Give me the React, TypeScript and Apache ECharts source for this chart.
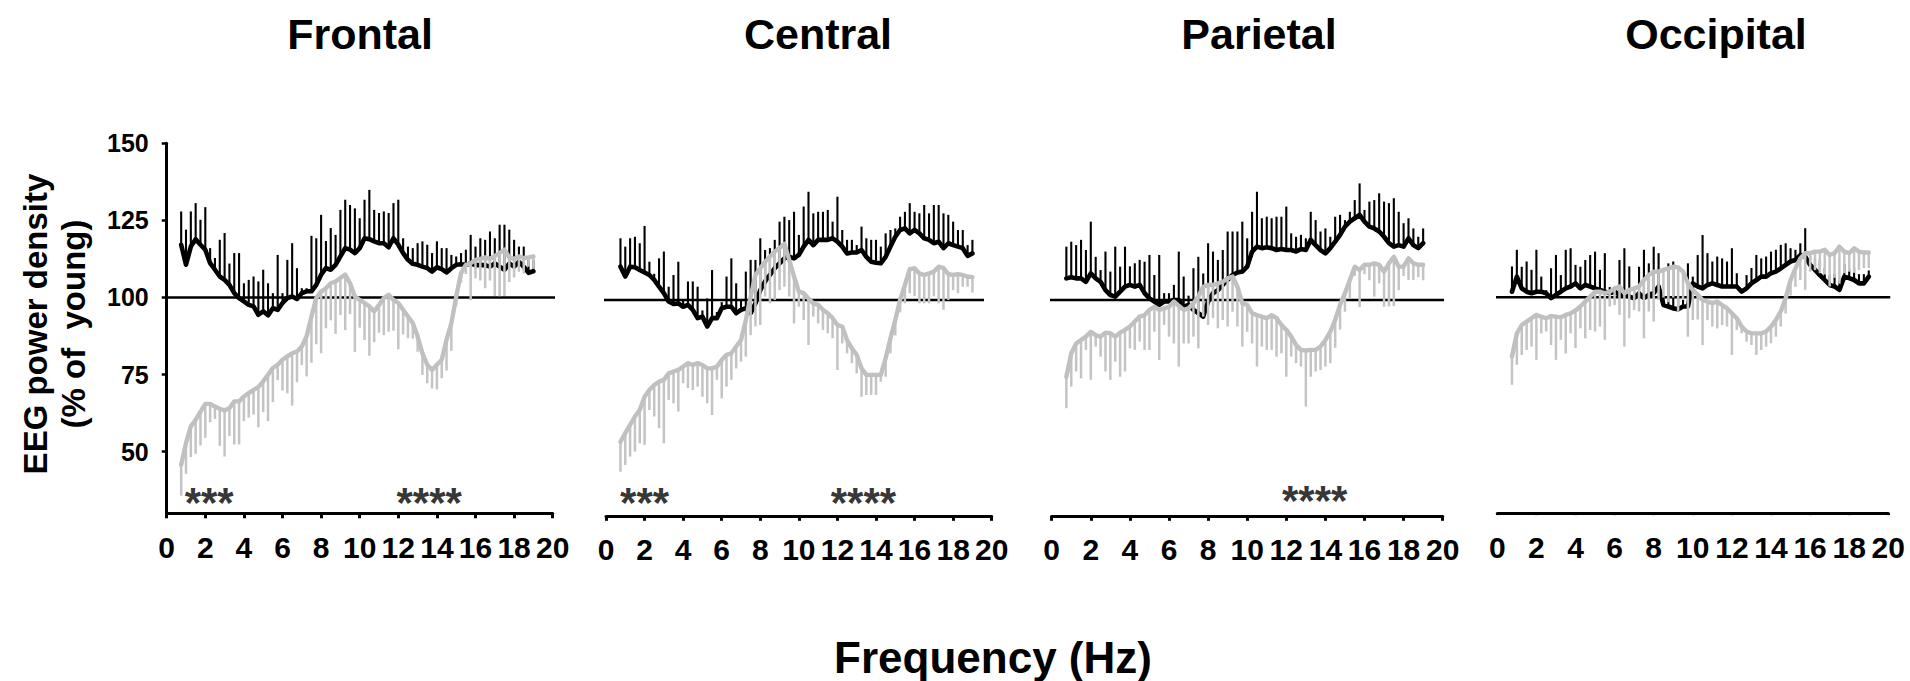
import React, { useEffect, useRef } from "react";
import * as echarts from "echarts";

// ---------- DATA ----------
const FREQ_HZ = [
  0.75, 1, 1.25, 1.5, 1.75, 2, 2.25, 2.5, 2.75, 3, 3.25, 3.5, 3.75, 4, 4.25, 4.5, 4.75, 5, 5.25, 5.5,
  5.75, 6, 6.25, 6.5, 6.75, 7, 7.25, 7.5, 7.75, 8, 8.25, 8.5, 8.75, 9, 9.25, 9.5, 9.75, 10, 10.25, 10.5,
  10.75, 11, 11.25, 11.5, 11.75, 12, 12.25, 12.5, 12.75, 13, 13.25, 13.5, 13.75, 14, 14.25, 14.5, 14.75, 15, 15.25, 15.5,
  15.75, 16, 16.25, 16.5, 16.75, 17, 17.25, 17.5, 17.75, 18, 18.25, 18.5, 18.75, 19,
];

const REGIONS = ["Frontal", "Central", "Parietal", "Occipital"];
const X_MIN = 0;
const X_MAX = 20;
const X_STEP = 2;
const Y_MIN = 30;
const Y_MAX = 150;
const Y_TICKS = [50, 75, 100, 125, 150];
const REFERENCE_LEVEL = 100;
const REFERENCE_SPAN = [
  [-0.2, 20.4],
  [-0.67, 19.6],
  [-0.56, 20.07],
  [-0.94, 20.1],
];

// black group: mean and (upward) error
const blackFrontalMean = [
  117.1, 110.6, 116.5, 118.9, 117.1, 115.5, 111.1, 109, 106.8, 105.7,
  104.1, 101.4, 99.8, 98.7, 97.6, 97.1, 94.4, 95.5, 94.2, 96.5,
  96, 98.2, 99.8, 100.3, 99.5, 101.4, 102, 102, 104.1, 107.4,
  109.5, 109, 110.6, 113.3, 116, 115.5, 114.4, 116, 119.2, 118.9,
  118.2, 117.6, 117.6, 116.3, 119.2, 117.1, 114.4, 112.2, 110.9, 110.6,
  110, 109.5, 108.4, 109.8, 109.2, 108.1, 109.5, 110.6, 110.8, 110.6,
  111, 110.5, 110.5, 110.5, 110, 111, 110, 109, 111, 110,
  111.5, 110, 108, 108.5,
];
const blackFrontalErr = [
  10.8, 11.4, 11.4, 11.7, 8.1, 13.8, 4.9, 3.8, 11.9, 15.2,
  6.9, 13, 14.6, 5.9, 8.1, 9.7, 10.8, 13.5, 10.4, 4.9,
  17.8, 3.2, 12.4, 17.3, 10, 1.6, 1, 18, 15.1, 19.4,
  8.8, 13.5, 9.7, 15.1, 15.7, 14.5, 14.5, 9.7, 12.5, 16,
  10.2, 9.8, 10.3, 11.1, 11.4, 14.6, 4.8, 4.3, 5.1, 7,
  8.2, 7.6, 6, 8.4, 6.8, 7.9, 4.3, 2.7, 3.6, 4.9,
  9.3, 6, 8.7, 8.2, 11.4, 8.2, 13.6, 14.6, 11, 8.7,
  5, 6.5, 4.2, 3.7,
];
const blackCentralMean = [
  110.8, 107.6, 110.8, 110.6, 109.7, 108.9, 108.1, 106.5, 104.3, 102.2,
  99.5, 98.7, 98.9, 97.8, 98.4, 96.8, 94.1, 94.6, 91.4, 94.1,
  94.1, 97.3, 97.8, 97.8, 95.7, 96.8, 97.3, 95.7, 98.9, 103.2,
  106, 108.1, 110.3, 111.9, 113.5, 114, 113.5, 114.6, 117.3, 119.5,
  117.8, 119.5, 119.5, 119.5, 120, 118.9, 117.3, 115.1, 115.4, 115.4,
  116.2, 114, 112.4, 112.1, 111.9, 114, 117.3, 120.5, 122.7, 123.2,
  121.6, 122.7, 121.6, 120, 119.5, 118.4, 118.9, 116.8, 118.4, 117.8,
  117.3, 116.8, 114.3, 115.1,
];
const blackCentralErr = [
  9.2, 9.7, 9.2, 9.9, 8.7, 15.1, 4.3, 2, 9.2, 13.5,
  4.8, 9.4, 13.5, 2, 7.6, 9.2, 10.2, 2, 9.1, 15.6,
  2, 2, 9.8, 15.7, 9.7, 3, 11.9, 17.3, 14.1, 16.8,
  10.2, 8.7, 9.2, 13.5, 13.5, 11.9, 15.1, 6.5, 13, 15.6,
  10.3, 9.1, 9.1, 9.7, 5.4, 14.6, 5.4, 4.4, 4.1, 2.4,
  7.6, 6, 7.1, 7.4, 5.4, 7.6, 5.4, 2.7, 4.3, 5.4,
  9.8, 5.9, 6.5, 10.8, 8.6, 12.4, 11.9, 11.3, 9.2, 7.6,
  5.4, 5.9, 3.5, 4.4,
];
const blackParietalMean = [
  107, 107.4, 107, 107, 105.9, 108.6, 107, 105.9, 103.2, 101.6,
  101.1, 102.7, 104.3, 104.9, 104.3, 104.9, 102.2, 100.5, 99.5, 98.4,
  99.5, 99.5, 100, 100, 97.8, 98.4, 96.8, 95.7, 94.6, 99.5,
  102.2, 103.2, 104.9, 106.5, 108.1, 108.9, 109.2, 110.8, 115.7, 117.3,
  116.8, 117.1, 116.8, 116.2, 116.5, 116.2, 116.2, 115.7, 116.5, 116.2,
  119.5, 117.8, 116.2, 115.1, 116.8, 118.9, 121.1, 123.8, 125.4, 126.5,
  127.6, 125.4, 123.8, 123.2, 122.2, 120.5, 118.4, 117.3, 117.8, 117.3,
  120, 117.8, 116.8, 118.4,
];
const blackParietalErr = [
  10.3, 11.5, 10.8, 12.5, 10.3, 16.8, 7, 3.8, 12.5, 7.6,
  16.2, 8.1, 13, 6, 7.6, 8.1, 10.2, 14.1, 8.6, 16.2,
  2.7, 2.7, 4.9, 15.7, 9.8, 3, 13.5, 18.3, 14, 18.9,
  13.5, 9.8, 11.3, 15.7, 14.1, 13.3, 16.2, 9.2, 12.9, 17.8,
  9.7, 9.9, 9.7, 10.8, 10.5, 14.1, 5.4, 4.8, 4.6, 3.8,
  9.1, 8.1, 6, 8.1, 3.7, 8.1, 6.5, 2.1, 3.2, 5.9,
  10.2, 3.8, 8.1, 9.2, 12.4, 11.4, 13, 15.7, 10.8, 7.6,
  6.5, 5.4, 3.7, 4.8,
];
const blackOccipitalMean = [
  101.8, 106.7, 102.9, 101.8, 101.3, 101.8, 101.8, 101.3, 99.7, 100.8,
  101.8, 102.9, 103.5, 104.5, 102.9, 104, 103.5, 102.9, 102.4, 101.8,
  101.3, 101.8, 100.8, 100.8, 100.2, 99.7, 101.3, 99.7, 100.8, 101.3,
  103.5, 97.5, 97, 96.4, 96.1, 97, 97, 104.5, 103.5, 102.9,
  104, 104.5, 104, 103.5, 103.5, 103.5, 103.5, 101.8, 102.9, 104.5,
  105.6, 106.7, 106.7, 107.8, 108.3, 109.4, 110.5, 111.6, 112.1, 113.7,
  113.2, 110.5, 108.9, 107.2, 105.6, 104, 103.5, 102.4, 106.7, 106.2,
  105.6, 104.5, 104.5, 106.7,
];
const blackOccipitalErr = [
  8.2, 8.7, 7, 9.8, 7.6, 13.6, 4.9, 1, 9.7, 12.9,
  5.4, 12.5, 12.4, 6, 7, 8.1, 10.2, 11.9, 6.5, 12.5,
  2, 1.5, 11.3, 15.1, 9.8, 2.5, 8.6, 15.7, 10.2, 15.1,
  10.8, 3, 14, 15.2, 4, 3, 14, 2.2, 10.2, 17.3,
  10.3, 7.1, 9.2, 9.1, 8.1, 12.4, 4.3, 1, 4.3, 5,
  8.1, 5.9, 6.5, 7, 7.1, 7.6, 7, 4.3, 3.3, 3.8,
  9.2, 3, 4, 5, 4, 3, 4, 3, 4, 3,
  4, 3, 3, 2,
];

// grey group: mean and (downward) error
const greyFrontalMean = [
  45.7, 52.8, 58.2, 60.3, 63, 65.5, 65.5, 64.6, 63.9, 63.4,
  64.1, 66.3, 66.3, 67.9, 69, 70, 70.9, 72.8, 74.9, 77.1,
  78.2, 79.8, 80.9, 81.9, 82.5, 84.1, 87.4, 93.8, 99.8, 101.9,
  103, 104.6, 105.2, 106.3, 107.4, 104.6, 100.3, 99.2, 98.2, 97.1,
  95.5, 97.6, 99.8, 100.9, 99.2, 98.2, 96, 93.8, 91.7, 87.4,
  81.9, 78.2, 76.5, 78.2, 79.8, 86.3, 91.7, 100.3, 107.9, 110.6,
  111.1, 112.2, 112.5, 113, 112.5, 113.5, 114.4, 115.5, 113, 112.5,
  113.3, 112.8, 113, 113.3,
];
const greyFrontalErr = [
  10, 10, 10, 11, 11, 11, 6, 4, 12, 15,
  9, 14, 14, 8, 8, 8, 13, 10, 15, 11,
  5, 10, 12, 17, 10, 6, 13, 15, 15, 20,
  13, 12, 17, 12, 18, 10, 18, 9, 12, 16,
  10, 9, 12, 12, 10, 15, 8, 7, 5, 5,
  7, 6, 6, 8, 6, 10, 9, 3, 3, 3,
  12, 6, 7, 10, 7, 13, 14, 15, 8, 6,
  5, 5, 3, 4,
];
const greyCentralMean = [
  54, 56.8, 59.5, 62.2, 64.3, 68.6, 70.8, 72.4, 73.5, 74.1,
  76.2, 76.8, 77.3, 78.4, 79.5, 78.9, 79.5, 78.9, 77.8, 77.8,
  78.4, 80.5, 82.2, 82.7, 84.9, 87, 93.5, 101.1, 108.1, 110.3,
  112.4, 114, 115.7, 116.8, 118.2, 113, 107.6, 102.7, 102.2, 100.5,
  98.9, 98.4, 96.8, 95.7, 94.1, 91.9, 91.4, 87, 84.3, 82.2,
  77.8, 75.7, 75.7, 75.7, 75.7, 81.1, 87.6, 93.5, 100, 104.9,
  110, 110.3, 108.6, 108.1, 108.6, 109.2, 110.8, 110.3, 108.4, 108.1,
  108.4, 108.1, 107.6, 107.4,
];
const greyCentralErr = [
  9.7, 10.3, 10.3, 11.4, 10.8, 15.6, 6.5, 10.2, 15.1, 20.6,
  8.6, 10.3, 13.5, 5.4, 8.1, 8.1, 7.6, 10.3, 11.3, 15.1,
  4.3, 12.4, 10.3, 8.6, 7.1, 7, 11.9, 12.5, 16.7, 18.4,
  11.3, 15.1, 15.7, 13.6, 13.9, 11.9, 15.2, 4.9, 8.7, 15.1,
  4.3, 6, 6.5, 6.5, 6.5, 14.6, 5.5, 4.3, 4.8, 6,
  9.2, 6.5, 6.5, 6.5, 2.2, 6, 4.9, 5, 4, 6,
  7.8, 9, 9.7, 9.2, 9.7, 8, 11.9, 13.5, 8.4, 4.9,
  6.2, 3.8, 3.3, 5,
];
const greyParietalMean = [
  75.1, 82.7, 85.9, 87, 88.1, 89.7, 88.6, 88.1, 89.4, 89.2,
  88.1, 89.4, 90.3, 91.4, 93, 94.6, 95.1, 96.8, 97.8, 96.8,
  97.3, 97.8, 99.5, 98.1, 96.8, 97.3, 98.9, 101.1, 104.3, 104.9,
  104.9, 105.4, 105.9, 107, 107.6, 104.3, 98.9, 98.4, 95.7, 95.1,
  94.6, 94.1, 95.1, 94.1, 91.9, 90.3, 88.1, 85.4, 83.8, 83.6,
  83.8, 83.8, 84.9, 87, 89.7, 93.5, 98.4, 102.2, 106.5, 110.8,
  109.7, 111.4, 111.4, 111.9, 111.4, 109.2, 111.9, 114, 110.8, 110.8,
  113.5, 111.9, 111.4, 111.4,
];
const greyParietalErr = [
  10.2, 10.8, 9.1, 12.4, 4.3, 15.6, 3.7, 6.5, 12.6, 15.1,
  8.1, 14.3, 13.5, 7.1, 9.2, 8.1, 11.3, 13, 8.1, 16.3,
  5.4, 9.7, 13.6, 19.7, 10.9, 11.4, 10.8, 16.8, 9.7, 13,
  10.8, 14.6, 12.4, 15.6, 11.4, 12.9, 14, 8.7, 9.8, 16.7,
  9.7, 10.3, 11.3, 12.5, 9.2, 15.2, 6.5, 5.9, 5.4, 18.2,
  8.7, 7, 7.6, 8.6, 10.2, 9, 8, 6, 6, 3,
  12, 3, 5, 10.8, 6, 11.4, 14, 16, 7.6, 3,
  7, 5.4, 4, 5,
];
const greyOccipitalMean = [
  80.8, 88.3, 91, 92.1, 93.2, 94.3, 93.7, 93.2, 93.9, 93.7,
  93.5, 94.3, 94.8, 95.7, 97, 98.6, 100.2, 101.8, 101.8, 101.3,
  101.8, 102.9, 103.5, 101.3, 102.4, 102.9, 103.5, 105.6, 107.2, 108.3,
  108.3, 108.9, 109.4, 109.9, 109.7, 108.3, 104.5, 102.4, 100.8, 99.1,
  98.6, 98.1, 98.6, 97.5, 96.4, 94.8, 93.2, 90.5, 88.9, 88.3,
  88.3, 88.3, 88.9, 90.5, 92.6, 95.4, 99.7, 105.6, 109.4, 112.6,
  114.3, 114.3, 114.8, 114.8, 115.4, 113.7, 114.3, 116.4, 114.8, 114.3,
  115.9, 114.8, 114.5, 114.5,
];
const greyOccipitalErr = [
  9.2, 10.2, 9.7, 9.2, 9.2, 14.6, 5.4, 4.3, 9.4, 14,
  7.3, 12.5, 6.5, 12.2, 7.1, 11.9, 10.8, 12.9, 11.3, 15.1,
  4.8, 5.4, 9.2, 17.3, 9.2, 7, 8.1, 18.9, 11.8, 16.2,
  9.2, 9, 11, 10, 14.3, 9.2, 17.3, 9.8, 8, 14.6,
  6, 7.6, 8.7, 6.5, 5.9, 13.5, 3.8, 2.2, 3.3, 3.8,
  7, 5.4, 4.9, 5.4, 5.4, 4.9, 5, 5, 6, 7,
  11.9, 6, 6, 7, 8, 10.2, 8, 12, 7, 6,
  8, 6, 5, 5,
];

const BLACK_MEANS = [blackFrontalMean, blackCentralMean, blackParietalMean, blackOccipitalMean];
const BLACK_ERRS = [blackFrontalErr, blackCentralErr, blackParietalErr, blackOccipitalErr];
const GREY_MEANS = [greyFrontalMean, greyCentralMean, greyParietalMean, greyOccipitalMean];
const GREY_ERRS = [greyFrontalErr, greyCentralErr, greyParietalErr, greyOccipitalErr];

// significance markers (region index, frequency position, level, text)
const SIG_REGION = [0, 0, 1, 1, 2];
const SIG_X = [2.2, 13.6, 2.0, 13.35, 13.45];
const SIG_Y = [33.6, 33.6, 34.4, 34.4, 34.9];
const SIG_TEXT = ["***", "****", "***", "****", "****"];

// ---------- LAYOUT / STYLE ----------
const FONT = '"Liberation Sans", Arial, Helvetica, sans-serif';
const PANEL_LEFT = [166.7, 606, 1051.7, 1497.3];
const PANEL_TOP = [143.3, 145.8, 145.8, 143.1];
const PANEL_WIDTH = [386, 385.7, 391, 391];
const PANEL_HEIGHT = 370;
const TITLE_X = [360, 818, 1259, 1716];
const BLACK = "#000000";
const GREY = "#c0c0c0";
const GREY_BAR = "#c4c4c4";

function errorBarSeries(i: number, means: number[], errs: number[], dir: number, color: string, width: number, z: number) {
  return {
    type: "custom",
    xAxisIndex: i,
    yAxisIndex: i,
    z,
    silent: true,
    encode: { x: 0, y: 1 },
    data: FREQ_HZ.map((f, j) => [f, means[j], errs[j]]),
    renderItem: (_params: any, api: any) => {
      const x = api.value(0);
      const m = api.value(1);
      const e = api.value(2);
      const a = api.coord([x, m]);
      const b = api.coord([x, m + dir * e]);
      return {
        type: "line",
        shape: { x1: a[0], y1: a[1], x2: b[0], y2: b[1] },
        style: { stroke: color, lineWidth: width },
      };
    },
  };
}

function buildOption() {
  const grids: any[] = [];
  const xAxes: any[] = [];
  const yAxes: any[] = [];
  const series: any[] = [];

  for (let i = 0; i < REGIONS.length; i++) {
    grids.push({
      left: PANEL_LEFT[i],
      top: PANEL_TOP[i],
      width: PANEL_WIDTH[i],
      height: PANEL_HEIGHT,
      containLabel: false,
      outerBoundsMode: "none",
    });
    xAxes.push({
      type: "value",
      gridIndex: i,
      min: X_MIN,
      max: X_MAX,
      interval: X_STEP,
      axisLine: { show: true, onZero: false, lineStyle: { color: BLACK, width: 3 } },
      axisTick: { show: true, length: i === 3 ? 2 : 5, lineStyle: { color: BLACK, width: 3 } },
      axisLabel: {
        show: true,
        fontSize: 30,
        fontWeight: "bold",
        fontFamily: FONT,
        color: BLACK,
        margin: 19,
        showMinLabel: true,
        showMaxLabel: true,
      },
      splitLine: { show: false },
    });
    yAxes.push({
      type: "value",
      gridIndex: i,
      min: Y_MIN,
      max: Y_MAX,
      show: i === 0,
      axisLine: { show: true, onZero: false, lineStyle: { color: BLACK, width: 3 } },
      axisTick: { show: true, customValues: Y_TICKS, length: 5, lineStyle: { color: BLACK, width: 2.5 } },
      axisLabel: {
        show: true,
        customValues: Y_TICKS,
        fontSize: 25,
        fontWeight: "bold",
        fontFamily: FONT,
        color: BLACK,
        margin: 18,
      },
      splitLine: { show: false },
    });

    // reference line at 100 %
    series.push({
      type: "line",
      xAxisIndex: i,
      yAxisIndex: i,
      clip: false,
      silent: true,
      symbol: "none",
      z: 1,
      data: [
        [REFERENCE_SPAN[i][0], REFERENCE_LEVEL],
        [REFERENCE_SPAN[i][1], REFERENCE_LEVEL],
      ],
      lineStyle: { color: BLACK, width: 2.5 },
    });
    // black group
    series.push(errorBarSeries(i, BLACK_MEANS[i], BLACK_ERRS[i], 1, BLACK, 2.1, 2));
    series.push({
      type: "line",
      xAxisIndex: i,
      yAxisIndex: i,
      symbol: "none",
      silent: true,
      z: 3,
      data: FREQ_HZ.map((f, j) => [f, BLACK_MEANS[i][j]]),
      lineStyle: { color: BLACK, width: 4.6, cap: "round", join: "round" },
    });
    // grey group
    series.push(errorBarSeries(i, GREY_MEANS[i], GREY_ERRS[i], -1, GREY_BAR, 2.5, 4));
    series.push({
      type: "line",
      xAxisIndex: i,
      yAxisIndex: i,
      symbol: "none",
      silent: true,
      z: 5,
      data: FREQ_HZ.map((f, j) => [f, GREY_MEANS[i][j]]),
      lineStyle: { color: GREY, width: 4.4, cap: "round", join: "round" },
    });
    // significance markers
    const marks: any[] = [];
    for (let s = 0; s < SIG_REGION.length; s++) {
      if (SIG_REGION[s] === i) marks.push({ value: [SIG_X[s], SIG_Y[s]], name: SIG_TEXT[s] });
    }
    if (marks.length) {
      series.push({
        type: "scatter",
        xAxisIndex: i,
        yAxisIndex: i,
        symbol: "circle",
        symbolSize: 1,
        itemStyle: { color: "rgba(0,0,0,0)" },
        silent: true,
        z: 6,
        data: marks,
        label: {
          show: true,
          position: "inside",
          formatter: "{b}",
          fontSize: 42,
          fontWeight: "bold",
          fontFamily: FONT,
          color: BLACK,
          textBorderWidth: 0,
        },
      });
    }
  }

  const graphics: any[] = REGIONS.map((name, i) => ({
    type: "text",
    x: TITLE_X[i],
    y: 34,
    silent: true,
    style: {
      text: name,
      textAlign: "center",
      textVerticalAlign: "middle",
      fontSize: 43,
      fontWeight: "bold",
      fontFamily: FONT,
      fill: BLACK,
    },
  }));
  graphics.push({
    type: "text",
    x: 54,
    y: 324,
    rotation: Math.PI / 2,
    silent: true,
    style: {
      text: "EEG power density\n(% of  young)",
      textAlign: "center",
      textVerticalAlign: "middle",
      fontSize: 33,
      lineHeight: 38,
      fontWeight: "bold",
      fontFamily: FONT,
      fill: BLACK,
    },
  });
  graphics.push({
    type: "text",
    x: 993,
    y: 657,
    silent: true,
    style: {
      text: "Frequency (Hz)",
      textAlign: "center",
      textVerticalAlign: "middle",
      fontSize: 44,
      fontWeight: "bold",
      fontFamily: FONT,
      fill: BLACK,
    },
  });

  return {
    animation: false,
    backgroundColor: "#ffffff",
    grid: grids,
    xAxis: xAxes,
    yAxis: yAxes,
    series,
    graphic: graphics,
  };
}

export default function App() {
  const ref = useRef<HTMLDivElement>(null);
  useEffect(() => {
    if (!ref.current) return;
    const chart = echarts.init(ref.current, null, { renderer: "svg" });
    chart.setOption(buildOption() as any);
    return () => {
      chart.dispose();
    };
  }, []);
  return (
    <div
      ref={ref}
      style={{ position: "absolute", left: 0, top: 0, width: 1910, height: 681, background: "#fff" }}
    />
  );
}
